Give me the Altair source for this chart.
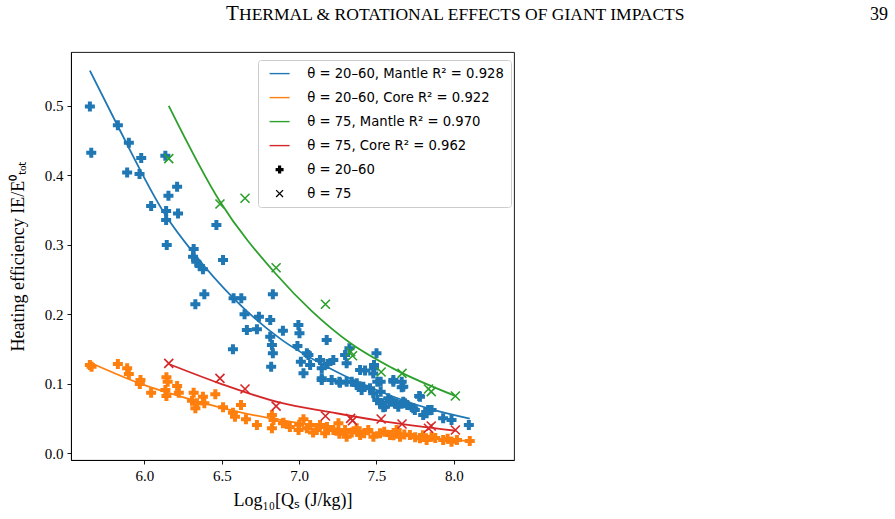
import altair as alt
import pandas as pd

BLUE, ORANGE, GREEN, RED = "#1f77b4", "#ff7f0e", "#2ca02c", "#d62728"
SERIF = "Liberation Serif"

# --- theta = 20-60 simulations: log10 Q_S and heating efficiency ---
mantle_2060_q = [
    5.647, 5.656, 5.828, 5.899, 5.979, 5.888, 5.968, 6.135, 6.211, 6.155, 6.043, 6.140, 6.217, 6.140, 6.144, 6.318, 6.314,
    6.465, 6.335, 6.357, 6.378, 6.508, 6.387, 6.329, 6.576, 6.626, 6.830, 6.647, 6.740, 6.662, 6.727, 6.813, 6.895, 6.813,
    6.824, 6.830, 6.819, 6.572,
    6.995, 7.002, 6.989, 7.050, 7.011, 7.071, 7.028, 7.135, 7.146, 7.146, 7.178,
    7.060, 7.221, 7.183, 7.146, 7.210, 7.260, 7.307, 7.297, 7.325, 7.500, 7.394, 7.426, 7.484, 7.340, 7.372, 7.415, 7.458,
    7.505, 7.527, 7.479, 7.505, 7.540, 7.544, 7.576, 7.609, 7.598, 7.630, 7.663, 7.673, 7.699, 7.738, 7.776, 7.802, 7.834,
    7.856, 7.931, 7.985, 8.097, 7.527, 7.307, 7.264, 7.372, 7.404, 7.484, 7.479, 7.523, 7.555, 7.587, 7.619, 7.641, 7.684,
    7.748, 7.781, 7.824, 7.609, 7.663, 7.673,
]
mantle_2060_eff = [
    0.499, 0.4325, 0.472, 0.447, 0.425, 0.404, 0.402, 0.428, 0.3836, 0.3707, 0.356, 0.3486, 0.345, 0.3357, 0.2997, 0.294, 0.283,
    0.3285, 0.2757, 0.2695, 0.2647, 0.278, 0.2288, 0.2144, 0.223, 0.223, 0.2288, 0.200, 0.1966, 0.1774, 0.1784, 0.1918, 0.1764,
    0.1678, 0.1558, 0.1439, 0.1246, 0.1496,
    0.1846, 0.1727, 0.1544, 0.1439, 0.1318, 0.127, 0.1151, 0.1342, 0.1223, 0.108, 0.163,
    0.1414, 0.1342, 0.1285, 0.1055, 0.1055, 0.103, 0.103, 0.1414, 0.151, 0.1439, 0.120, 0.119, 0.127, 0.103, 0.0983, 0.0959,
    0.0935, 0.103, 0.103, 0.0863, 0.0767, 0.0719, 0.0662, 0.0791, 0.103, 0.0742, 0.0709, 0.095, 0.0742, 0.0695, 0.0647, 0.0824,
    0.0551, 0.0623, 0.0623, 0.0503, 0.0479, 0.0407, 0.0887, 0.1295, 0.1016, 0.1007, 0.091, 0.122, 0.115, 0.072, 0.067, 0.0767,
    0.072, 0.067, 0.072, 0.0623, 0.0815, 0.0575, 0.1055, 0.103, 0.0959,
]
core_2060_q = [
    5.647, 5.658, 5.828, 5.888, 5.899, 5.974, 5.970, 6.043, 6.142, 6.150, 6.135, 6.211, 6.222, 6.142, 6.318, 6.378, 6.307,
    6.339, 6.329, 6.387, 6.458, 6.508, 6.572, 6.624, 6.585, 6.656, 6.727, 6.824, 6.834, 6.824, 6.895,
    6.899, 7.028, 6.996, 7.071, 7.135, 7.114, 7.168, 7.221, 7.254, 7.297, 7.372, 7.307, 7.394, 7.447, 7.523, 7.587, 7.630,
    7.652, 7.716, 7.781, 7.824, 7.856, 7.931, 7.985, 8.103,
    6.94, 7.00, 7.05, 7.09, 7.18, 7.26, 7.34, 7.42, 7.48, 7.55, 7.61, 7.68, 7.75, 7.80, 7.88, 7.96, 8.02,
]
core_2060_eff = [
    0.127, 0.1246, 0.1285, 0.1223, 0.114, 0.1055, 0.0997, 0.0872, 0.1093, 0.103, 0.0911, 0.0968, 0.0872, 0.0824, 0.0872,
    0.0815, 0.0757, 0.072, 0.0647, 0.072, 0.0849, 0.0662, 0.0584, 0.0695, 0.0527, 0.0489, 0.0407, 0.0551, 0.0479, 0.036, 0.0432,
    0.044, 0.049, 0.0335, 0.0407, 0.0407, 0.0335, 0.0288, 0.0335, 0.0432, 0.0335, 0.036, 0.0239, 0.0263, 0.0335, 0.0288,
    0.0263, 0.0335, 0.0239, 0.0263, 0.0216, 0.0191, 0.0239, 0.0191, 0.0167, 0.0177,
    0.038, 0.041, 0.036, 0.030, 0.038, 0.028, 0.030, 0.029, 0.024, 0.031, 0.026, 0.027, 0.023, 0.026, 0.022, 0.021, 0.019,
]

# --- theta = 75 simulations ---
q_75 = [6.157, 6.488, 6.650, 6.851, 7.170, 7.333, 7.345, 7.530, 7.665, 7.836, 7.854, 8.010]
mantle_75_eff = [0.424, 0.3587, 0.367, 0.267, 0.2144, 0.1462, 0.1404, 0.117, 0.115, 0.0925, 0.0887, 0.0824]
core_75_eff = [0.1295, 0.1079, 0.0925, 0.068, 0.0537, 0.0503, 0.047, 0.0494, 0.0422, 0.036, 0.0393, 0.0335]

# --- fitted curves (sampled along each fit) ---
fit_mantle_2060_q = [5.647, 5.824, 6.135, 6.318, 6.576, 6.877, 7.200, 7.523, 7.845, 8.103]
fit_mantle_2060_eff = [0.5505, 0.4724, 0.343, 0.288, 0.223, 0.165, 0.122, 0.089, 0.064, 0.050]
fit_core_2060_q = [5.669, 6.000, 6.297, 6.600, 6.942, 7.500, 8.103]
fit_core_2060_eff = [0.1285, 0.098, 0.0777, 0.060, 0.0455, 0.029, 0.0177]
fit_mantle_75_q = [6.157, 6.486, 6.850, 7.080, 7.335, 7.600, 8.013]
fit_mantle_75_eff = [0.500, 0.363, 0.258, 0.205, 0.158, 0.123, 0.0824]
fit_core_75_q = [6.157, 6.490, 6.877, 7.200, 7.523, 8.013]
fit_core_75_eff = [0.1285, 0.1004, 0.0728, 0.0593, 0.0467, 0.0325]

legend_labels = [
    "θ = 20–60, Mantle R² = 0.928",
    "θ = 20–60, Core R² = 0.922",
    "θ = 75, Mantle R² = 0.970",
    "θ = 75, Core R² = 0.962",
    "θ = 20–60",
    "θ = 75",
]

X_TICKS = [6.0, 6.5, 7.0, 7.5, 8.0]
Y_TICKS = [0.0, 0.1, 0.2, 0.3, 0.4, 0.5]
X_DOMAIN = [5.525, 8.389]
Y_DOMAIN = [-0.0096, 0.5774]

W, H = 443, 408

# legend symbol outlines (drawn at one common symbol size)
LINE_PATH = "M-2,-0.14L2,-0.14L2,0.14L-2,0.14Z"
PLUS_PATH = ("M-0.8,-0.32L-0.32,-0.32L-0.32,-0.8L0.32,-0.8L0.32,-0.32L0.8,-0.32"
             "L0.8,0.32L0.32,0.32L0.32,0.8L-0.32,0.8L-0.32,0.32L-0.8,0.32Z")
X_PATH = ("M-0.6,-0.78L0.78,0.6L0.6,0.78L-0.78,-0.6Z"
          "M0.6,-0.78L0.78,-0.6L-0.6,0.78L-0.78,0.6Z")
# scatter marker for the theta = 75 runs
X_STROKE = "M-1,-1L1,1M1,-1L-1,1"


def frame(q, e):
    assert len(q) == len(e)
    return pd.DataFrame({"q": q, "e": e})


x_enc = alt.X(
    "q:Q",
    scale=alt.Scale(domain=X_DOMAIN, nice=False, zero=False),
    axis=alt.Axis(values=X_TICKS, format=".1f", title="Log₁₀[Qₛ (J/kg)]",
                  titleY=40, titleBaseline="middle"),
)
y_enc = alt.Y(
    "e:Q",
    scale=alt.Scale(domain=Y_DOMAIN, nice=False, zero=False),
    axis=alt.Axis(values=Y_TICKS, format=".1f", title="Heating efficiency IE/E⁰ₜₒₜ",
                  titleX=-53, titleY=H / 2, titleBaseline="middle", titleAngle=-90),
)


def fit_line(q, e, color):
    return alt.Chart(frame(q, e)).mark_line(
        color=color, strokeWidth=1.8, interpolate="monotone"
    ).encode(x=x_enc, y=y_enc)


def plus_points(q, e, color):
    return alt.Chart(frame(q, e)).mark_point(
        shape="cross", filled=True, size=100, color=color, opacity=1
    ).encode(x=x_enc, y=y_enc)


def x_points(q, e, color):
    return alt.Chart(frame(q, e)).mark_point(
        shape=X_STROKE, filled=False, size=81, color=color, strokeWidth=1.6, opacity=1
    ).encode(x=x_enc, y=y_enc)


# legend entries: a clipped, off-scale layer that only feeds the legend
legend_df = pd.DataFrame({"entry": legend_labels, "q": [0.0] * 6, "e": [0.0] * 6})
leg = alt.Legend(
    title=None, orient="none", legendX=187, legendY=8, padding=7,
    strokeColor="#cccccc", fillColor="white", cornerRadius=3,
    labelFont="DejaVu Sans", labelFontSize=13.2, labelColor="black", labelLimit=400,
    rowPadding=10, labelOffset=21, symbolOffset=8, symbolStrokeWidth=0,
)
legend_layer = alt.Chart(legend_df).mark_point(filled=True, opacity=1, size=196, clip=True).encode(
    x=x_enc,
    y=y_enc,
    color=alt.Color("entry:N", sort=legend_labels, legend=leg,
                    scale=alt.Scale(domain=legend_labels,
                                    range=[BLUE, ORANGE, GREEN, RED, "black", "black"])),
    shape=alt.Shape("entry:N", sort=legend_labels, legend=leg,
                    scale=alt.Scale(domain=legend_labels,
                                    range=[LINE_PATH] * 4 + [PLUS_PATH, X_PATH])),
)

# running page header
header_big = alt.Chart(pd.DataFrame({"t": ["T"]})).mark_text(
    font=SERIF, fontSize=21, align="left", baseline="alphabetic", color="black"
).encode(text="t:N", x=alt.value(155), y=alt.value(-32))
header_rest = alt.Chart(pd.DataFrame({"t": ["HERMAL & ROTATIONAL EFFECTS OF GIANT IMPACTS"]})).mark_text(
    font=SERIF, fontSize=17.5, align="left", baseline="alphabetic", color="black"
).encode(text="t:N", x=alt.value(168), y=alt.value(-32))
page_no = alt.Chart(pd.DataFrame({"t": ["39"]})).mark_text(
    font=SERIF, fontSize=18, align="right", baseline="alphabetic", color="black"
).encode(text="t:N", x=alt.value(817), y=alt.value(-32))

chart = alt.layer(
    plus_points(mantle_2060_q, mantle_2060_eff, BLUE),
    plus_points(core_2060_q, core_2060_eff, ORANGE),
    x_points(q_75, mantle_75_eff, GREEN),
    x_points(q_75, core_75_eff, RED),
    fit_line(fit_mantle_2060_q, fit_mantle_2060_eff, BLUE),
    fit_line(fit_core_2060_q, fit_core_2060_eff, ORANGE),
    fit_line(fit_mantle_75_q, fit_mantle_75_eff, GREEN),
    fit_line(fit_core_75_q, fit_core_75_eff, RED),
    legend_layer,
    header_big,
    header_rest,
    page_no,
).resolve_scale(
    color="independent", shape="independent"
).properties(
    width=W,
    height=H,
    autosize=alt.AutoSizeParams(type="none"),
    padding={"left": 71, "top": 52, "right": 381, "bottom": 59},
    background="white",
).configure_view(
    stroke="black", strokeWidth=0.9
).configure_axis(
    grid=False,
    domainColor="black", domainWidth=0.9,
    tickColor="black", tickWidth=0.9, tickSize=4,
    labelFont=SERIF, labelFontSize=15, labelColor="black", labelPadding=4,
    titleFont=SERIF, titleFontSize=18, titleColor="black", titleFontWeight="normal",
)

chart.save("out.html", embed_options={"renderer": "svg", "actions": False})
